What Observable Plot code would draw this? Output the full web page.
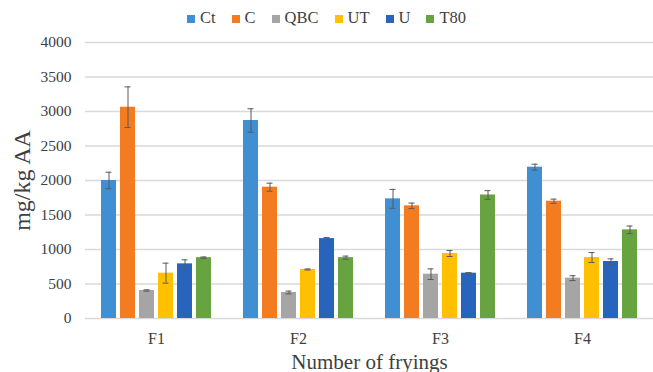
<!DOCTYPE html>
<html>
<head>
<meta charset="utf-8">
<script src="https://cdn.jsdelivr.net/npm/d3@7"></script>
<script src="https://cdn.jsdelivr.net/npm/@observablehq/plot@0.6"></script>
<style>
  html, body { margin: 0; padding: 0; background: #fff; overflow: hidden; }
  #legend { height: 30px; display: flex; align-items: center; padding-left: 187px; padding-top: 6px; box-sizing: border-box;
            font-family: "Liberation Serif", "DejaVu Serif", serif; font-size: 16.5px; color: #404040; gap: 16px; }
  #legend .item { display: flex; align-items: center; gap: 5px; }
  #legend .sw { width: 8px; height: 8px; display: inline-block; margin-top: 1px; }
</style>
</head>
<body>
<div id="legend"></div>
<div id="chart"></div>
<script>
const fryings = ["F1", "F2", "F3", "F4"];
const seriesNames = ["Ct", "C", "QBC", "UT", "U", "T80"];
const seriesColors = ["#418fd3", "#f47c20", "#a5a5a5", "#ffc000", "#2864bc", "#67a340"];
const yTicks = [0, 500, 1000, 1500, 2000, 2500, 3000, 3500, 4000];

// means per series (F1..F4)
const ctValues  = [2000, 2870, 1734, 2193];
const cValues   = [3062, 1903, 1633, 1700];
const qbcValues = [406, 377, 642, 585];
const utValues  = [657, 710, 942, 884];
const uValues   = [792, 1158, 657, 826];
const t80Values = [882, 882, 1790, 1285];

// error bar half-widths (F1..F4)
const ctErrors  = [120, 170, 137, 43];
const cErrors   = [295, 58, 40, 30];
const qbcErrors = [10, 20, 77, 35];
const utErrors  = [145, 8, 43, 72];
const uErrors   = [58, 15, 8, 38];
const t80Errors = [10, 22, 63, 55];

const valuesBySeries = [ctValues, cValues, qbcValues, utValues, uValues, t80Values];
const errorsBySeries = [ctErrors, cErrors, qbcErrors, utErrors, uErrors, t80Errors];

const rows = fryings.flatMap((f, i) => seriesNames.map((s, j) => ({
  frying: f, series: s, value: valuesBySeries[j][i], err: errorsBySeries[j][i]
})));

// legend
const legend = document.getElementById("legend");
seriesNames.forEach((s, j) => {
  const it = document.createElement("span");
  it.className = "item";
  const sw = document.createElement("span");
  sw.className = "sw";
  sw.style.background = seriesColors[j];
  const tx = document.createElement("span");
  tx.textContent = s;
  it.appendChild(sw); it.appendChild(tx);
  legend.appendChild(it);
});

const font = "'Liberation Serif', 'DejaVu Serif', serif";

const chart = Plot.plot({
  width: 653,
  height: 342,
  marginTop: 12,
  marginBottom: 54,
  marginLeft: 85,
  marginRight: 0,
  style: { fontFamily: font, color: "#404040", background: "#fff" },
  fx: { domain: fryings, padding: 0 },
  x: { domain: seriesNames, paddingInner: 0.21, paddingOuter: 0.84, axis: null },
  y: { domain: [0, 4000] },
  color: { domain: seriesNames, range: seriesColors },
  marks: [
    Plot.gridY(yTicks, { stroke: "#d9d9d9", strokeOpacity: 1, strokeWidth: 1.4 }),
    Plot.axisY(yTicks, {
      tickSize: 0, tickPadding: 14, fontSize: 15.5, tickFormat: d => String(d),
      label: "mg/kg AA", labelAnchor: "center", labelArrow: "none", labelOffset: 73
    }),
    Plot.axisFx({
      anchor: "bottom", tickSize: 0, tickPadding: 14, fontSize: 16,
      label: "Number of fryings", labelAnchor: "center", labelArrow: "none", labelOffset: 50
    }),
    Plot.barY(rows, { fx: "frying", x: "series", y: "value", fill: "series" }),
    Plot.ruleX(rows, { fx: "frying", x: "series", y1: d => d.value - d.err, y2: d => d.value + d.err, stroke: "#595959", strokeWidth: 1 }),
    Plot.tickY(rows, { fx: "frying", x: "series", y: d => d.value - d.err, stroke: "#595959", strokeWidth: 1, insetLeft: 4.5, insetRight: 4.5 }),
    Plot.tickY(rows, { fx: "frying", x: "series", y: d => d.value + d.err, stroke: "#595959", strokeWidth: 1, insetLeft: 4.5, insetRight: 4.5 })
  ]
});

// axis title sizes
d3.select(chart).selectAll("g[aria-label='y-axis label'] text").style("font-size", "24px");
d3.select(chart).selectAll("g[aria-label='fx-axis label'] text").style("font-size", "21px");
document.getElementById("chart").appendChild(chart);
</script>
</body>
</html>
